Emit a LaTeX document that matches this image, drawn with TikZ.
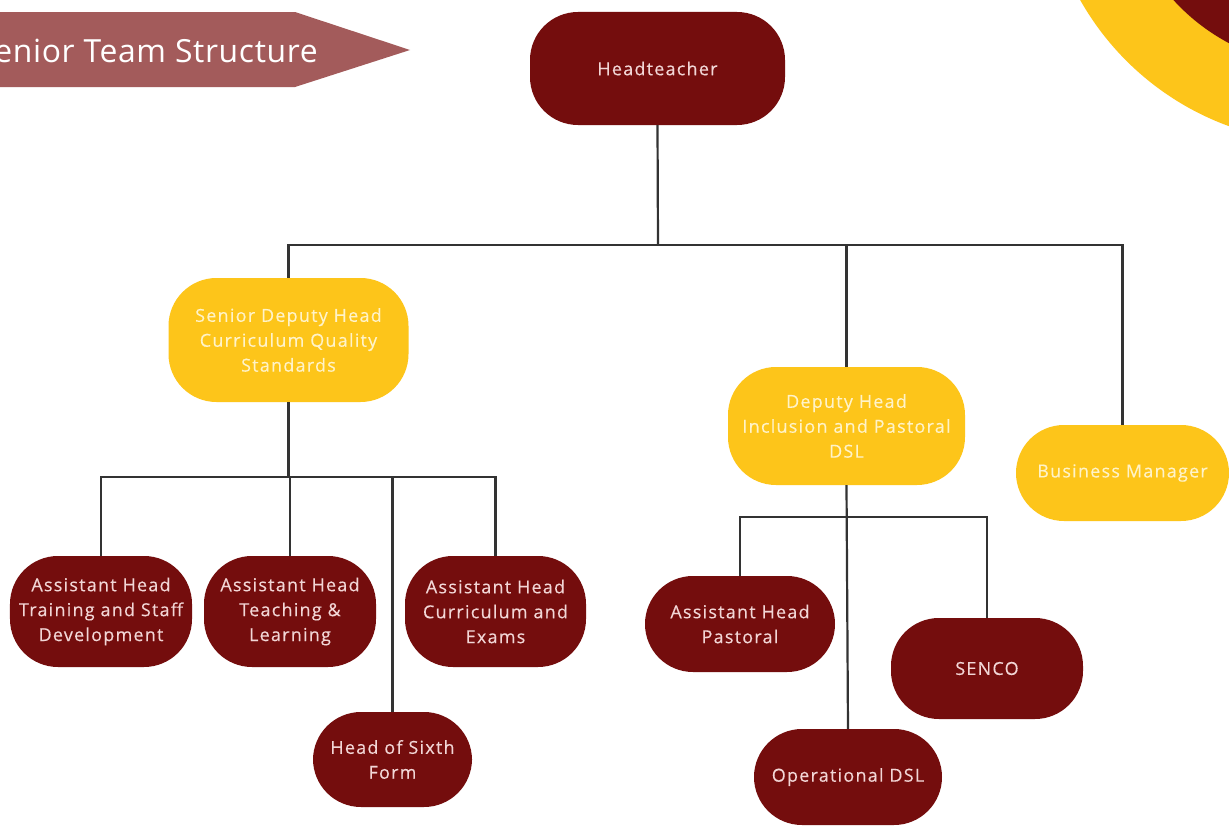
\documentclass[tikz,border=0pt]{standalone}
\usepackage{fontspec}
\setmainfont{Open Sans}[LetterSpace=7,FakeBold=0.3]
\newfontfamily\titlefont{Open Sans}[LetterSpace=2]
\definecolor{dred}{HTML}{740D0D}
\definecolor{gold}{HTML}{FDC51A}
\definecolor{banner}{HTML}{A35B5B}
\definecolor{redtxt}{HTML}{F2D6D6}
\definecolor{goldtxt}{HTML}{FFF3C8}
\definecolor{wire}{HTML}{333333}
\tikzset{
  orgbox/.style={rounded corners=48bp, inner sep=0pt, align=center,
    font=\fontsize{18}{25}\selectfont},
  redbox/.style={orgbox, fill=dred, text=redtxt},
  goldbox/.style={orgbox, fill=gold, text=goldtxt},
  wire/.style={draw=wire, line width=2.2bp},
}
\begin{document}
\begin{tikzpicture}[x=1bp,y=-1bp]
\useasboundingbox (0,0) rectangle (1229,827);
\fill[white] (0,0) rectangle (1229,827);
% corner decoration
\fill[gold] (1325,-138) circle (281bp);
\fill[dred] (1325,-138) circle (205bp);
% title banner
\fill[banner] (-60,12) -- (295,12) -- (410,50) -- (295,87) -- (-60,87) -- cycle;
\node[anchor=base east, text=white, font=\titlefont\fontsize{32}{38}\selectfont, inner sep=0pt] (title) at (318,62) {Senior Team Structure};
% nodes
\node[redbox, minimum width=255bp, minimum height=113bp] (head) at (657.5,68.5) {Headteacher};
\node[goldbox, minimum width=240bp, minimum height=124bp] (sdh) at (288.5,340) {Senior Deputy Head\\Curriculum Quality\\Standards};
\node[goldbox, minimum width=237bp, minimum height=118bp] (dh) at (846.5,426) {Deputy Head\\Inclusion and Pastoral\\DSL};
\node[goldbox, minimum width=213bp, minimum height=96bp] (bm) at (1122.5,473) {Business Manager};
\node[redbox, minimum width=182bp, minimum height=111bp] (ah1) at (101,611.5) {Assistant Head\\Training and Staff\\Development};
\node[redbox, minimum width=172bp, minimum height=111bp] (ah2) at (290,611.5) {Assistant Head\\Teaching \&\\Learning};
\node[redbox, minimum width=181bp, minimum height=111bp] (ah3) at (495.5,611.5) {Assistant Head\\Curriculum and\\Exams};
\node[redbox, minimum width=159bp, minimum height=95bp] (hsf) at (392.5,759.5) {Head of Sixth\\Form};
\node[redbox, minimum width=190bp, minimum height=96bp] (ahp) at (740,624) {Assistant Head\\Pastoral};
\node[redbox, minimum width=192bp, minimum height=101bp] (senco) at (987,668.5) {SENCO};
\node[redbox, minimum width=188bp, minimum height=96bp] (odsl) at (848,777) {Operational DSL};
% junctions
\coordinate (j1) at (658,245);
\coordinate (j2) at (288.5,477);
\coordinate (j3) at (846.5,517);
% connectors
\draw[wire] (head.south) -- (j1);
\draw[wire] (sdh.north) -- (sdh.north |- j1) -| (bm.north);
\draw[wire] (dh.north) -- (dh.north |- j1);
\draw[wire] (sdh.south) -- (j2);
\draw[wire] (ah1.north) |- (ah3.north |- j2) -- (ah3.north);
\draw[wire] (ah2.north) -- (ah2.north |- j2);
\draw[wire] (hsf.north) -- (hsf.north |- j2);
\draw[wire] (dh.south) -- (odsl.north);
\draw[wire] (ahp.north) |- (senco.north |- j3) -- (senco.north);
\end{tikzpicture}
\end{document}
